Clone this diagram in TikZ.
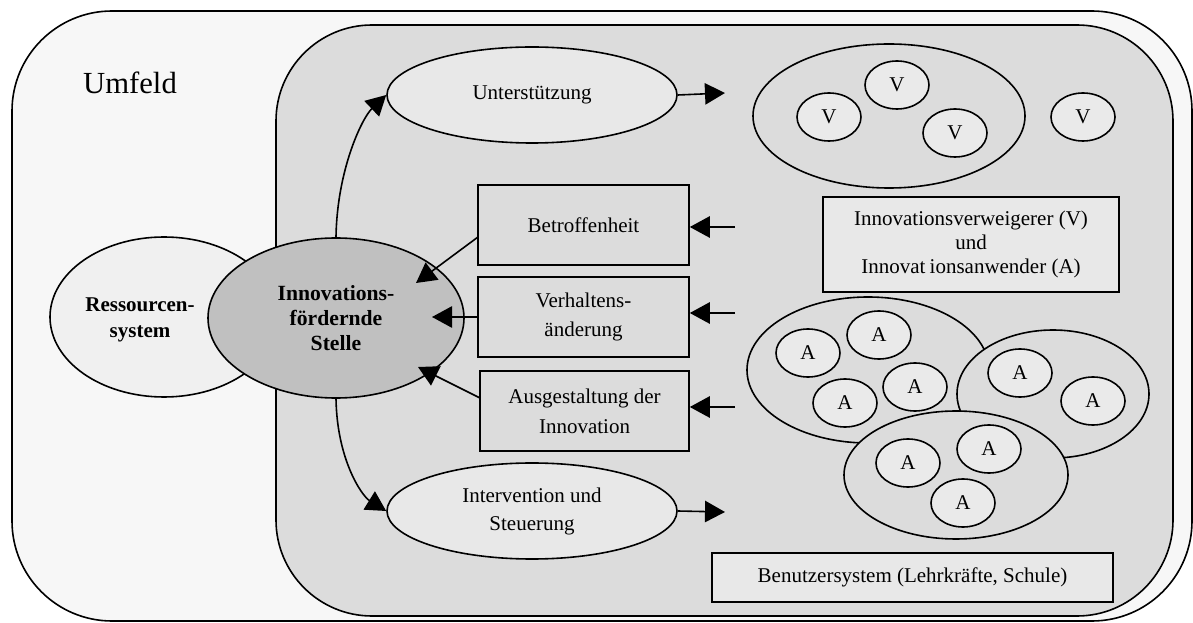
\documentclass[tikz,border=0pt]{standalone}
\usepackage{fontspec}
\setmainfont{Liberation Serif}
\usetikzlibrary{shapes.geometric,arrows.meta}
\definecolor{outerbg}{HTML}{F7F7F7}
\definecolor{innerbg}{HTML}{DCDCDC}
\definecolor{centerfill}{HTML}{C0C0C0}
\definecolor{resfill}{HTML}{F0F0F0}
\definecolor{lightfill}{HTML}{E8E8E8}
\definecolor{memberfill}{HTML}{EAEAEA}
\begin{document}
\begin{tikzpicture}[x=0.75pt,y=-0.75pt,
  every node/.style={font=\fontsize{15.75}{19}\selectfont, align=center},
  frame/.style={draw=black, line width=1.2pt},
  oval/.style={frame, ellipse, inner sep=0pt},
  tag/.style={frame, rectangle, inner sep=0pt},
  member/.style={oval, fill=memberfill, minimum width=48pt, minimum height=36pt},
  group/.style={oval, fill=innerbg},
  link/.style={line width=1.2pt, -{Triangle[length=15pt,width=16pt]}},
]
\useasboundingbox (0,0) rectangle (1193,623);

% environment and user system
\draw[frame, fill=outerbg, rounded corners=75pt] (12,11) rectangle (1192,621);
\draw[frame, fill=innerbg, rounded corners=72pt] (276,25) rectangle (1173,616);
\node[font=\fontsize{23}{27}\selectfont] (umfeld) at (130,83) {Umfeld};

% resource system and promoting unit
\node[oval, fill=resfill, minimum width=171pt, minimum height=120pt] (ress) at (164,317) {};
\node[font=\bfseries\fontsize{15.75}{19.5}\selectfont] (resstext) at (140,320) {Ressourcen-\\system};
\node[oval, fill=centerfill, minimum width=192pt, minimum height=120pt,
      font=\bfseries\fontsize{16.25}{18.75}\selectfont] (inno) at (336,318)
      {Innovations-\\fördernde\\Stelle};

% support and intervention
\node[oval, fill=lightfill, minimum width=217.5pt, minimum height=72pt] (unter) at (532,95) {Unterstützung};
\node[oval, fill=lightfill, minimum width=217.5pt, minimum height=72pt,
      font=\fontsize{15.75}{21}\selectfont] (intv) at (532,511) {Intervention und\\Steuerung};

% feedback boxes
\node[tag, fill=innerbg, minimum width=158.25pt, minimum height=60pt] (betr) at (583.5,225) {Betroffenheit};
\node[tag, fill=innerbg, minimum width=158.25pt, minimum height=60pt,
      font=\fontsize{15.75}{21.75}\selectfont] (verh) at (583.5,317) {Verhaltens-\\änderung};
\node[tag, fill=innerbg, minimum width=156.75pt, minimum height=60pt,
      font=\fontsize{15.75}{22.5}\selectfont] (ausg) at (584.5,411) {Ausgestaltung der\\Innovation};

% refusers
\node[group, minimum width=204pt, minimum height=108pt] (vgroup) at (889,116) {};
\node[member] (v1) at (829,117) {V};
\node[member] (v2) at (897,85) {V};
\node[member] (v3) at (955,133) {V};
\node[member] (v4) at (1083,117) {V};

\node[tag, fill=lightfill, minimum width=222pt, minimum height=71.25pt,
      font=\fontsize{15.75}{18}\selectfont] (legend) at (971,244.5)
      {Innovationsverweigerer (V)\\und\\Innovat\hspace{0.2em}ionsanwender (A)};

% adopters
\node[group, minimum width=181.5pt, minimum height=109.5pt] (agroup1) at (868,370) {};
\node[group, minimum width=144pt, minimum height=96pt] (agroup2) at (1053,394) {};
\node[group, minimum width=168pt, minimum height=96pt] (agroup3) at (956,475) {};
\node[member] (a1) at (808,353) {A};
\node[member] (a2) at (879,335) {A};
\node[member] (a3) at (845,403) {A};
\node[member] (a4) at (915,387) {A};
\node[member] (a5) at (1020,373) {A};
\node[member] (a6) at (1093,401) {A};
\node[member] (a7) at (908,463) {A};
\node[member] (a8) at (989,449) {A};
\node[member] (a9) at (963,503) {A};

\node[tag, fill=lightfill, minimum width=300.75pt, minimum height=36.75pt] (benutzer) at (912.5,577.5)
      {Benutzersystem (Lehrkräfte, Schule)};

% free ends and tips of the connectors
\coordinate (outU) at (725,93);
\coordinate (outI) at (725,512);
\coordinate (inB) at (735,227);
\coordinate (inV) at (735,313);
\coordinate (inA) at (735,407);
\coordinate (fromB) at (478,237);
\coordinate (fromA) at (480,398);
\coordinate (tipB) at (416,283);
\coordinate (tipV) at (432,317);
\coordinate (tipA) at (418,367);

% connectors
\draw[link] (inno.north) .. controls (337,170) and (362,118) .. (unter.west);
\draw[link] (inno.south) .. controls (337,460) and (362,496) .. (intv.west);
\draw[link] (unter.east) -- (outU);
\draw[link] (intv.east) -- (outI);
\draw[link] (inB) -- (betr.east |- inB);
\draw[link] (inV) -- (verh.east |- inV);
\draw[link] (inA) -- (ausg.east |- inA);
\draw[link] (fromB) -- (tipB);
\draw[link] (verh.west |- tipV) -- (tipV);
\draw[link] (fromA) -- (tipA);
\end{tikzpicture}
\end{document}
